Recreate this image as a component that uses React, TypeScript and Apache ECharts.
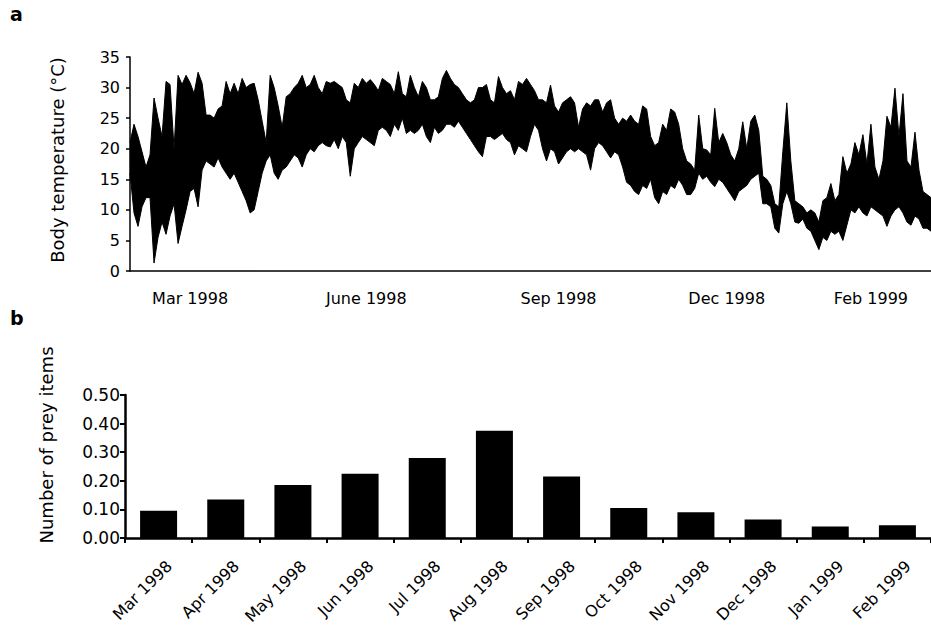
import React, { useEffect, useRef } from "react";
import * as echarts from "echarts";

// Panel a: body temperature, envelope read every 2 days (daily highs and lows)
const tempHigh = [
  21, 24, 22, 19.5, 17, 19, 28.3, 25, 22, 31,
  30.5, 20, 32, 30.5, 32, 30.8, 29, 32.5, 30.7, 25.5,
  25.5, 25, 26.5, 27, 31, 29, 30.7, 29, 31.5, 30,
  30.5, 30.7, 28, 24.5, 21, 32, 30, 27, 23.5, 28.5,
  29, 30, 30.7, 32, 30, 30.5, 32, 30, 29, 31,
  30.7, 31, 30.5, 30, 28, 27.5, 30.7, 30, 31.5, 30.7,
  31.3, 30.5, 29.5, 31.5, 31, 30.5, 29, 32.6, 29, 28.5,
  32, 30, 28.5, 31, 30, 28, 28, 28.5, 31.5, 32.8,
  31.5, 30.5, 30, 29, 28, 27.5, 28, 30, 30, 30.5,
  28, 27.5, 31.8, 30, 29, 29.5, 28, 31, 30.5, 31.5,
  30.5, 29.5, 28, 28, 27.5, 30.4, 27, 26, 27.5, 28,
  28.5, 27.5, 23.5, 26.5, 27.5, 27, 28, 28, 26, 27.5,
  28, 25, 24, 25, 24.5, 25.5, 24.5, 24, 27, 26.5,
  22, 20.5, 21, 24, 23, 26.5, 26, 24, 20, 18,
  17.5, 16.5, 25.5, 20, 19.8, 19, 26.6, 21, 22.5, 21,
  19, 18, 20, 24.4, 20, 24.5, 25.5, 23, 15.5, 15,
  14, 11, 10.5, 19.5, 27.5, 18, 11.5, 11, 10.5, 9.5,
  10, 9.5, 8, 11.5, 12, 14.3, 11.5, 12.5, 18.7, 16,
  17.5, 21, 19, 22.3, 17.5, 24, 17, 15, 18, 25.3,
  23.5, 29.9, 22, 29, 18, 17, 22.7, 16.5, 13, 12.5, 12,
];
const tempLow = [
  16, 9.5, 7.3, 10.5, 12, 12, 1.3, 5.5, 8, 6,
  9, 11, 4.5, 7.3, 10, 13, 13.5, 10.5, 16.5, 18,
  17.5, 17, 18.5, 17, 16, 15, 16, 14.5, 13, 11.5,
  9.5, 10, 13, 16, 18, 19, 16, 15, 16.5, 17,
  18, 19, 18.5, 17, 19, 20, 19.5, 20.5, 21, 20.5,
  20.3, 21.5, 20, 22, 21, 15.5, 20, 21, 22, 21.5,
  21, 20.5, 23, 23.5, 23, 22, 24, 23, 25, 22.5,
  23, 22.5, 23, 24, 22, 21, 23.5, 22.5, 23, 24,
  24, 23.5, 24.5, 23.5, 22.5, 21.5, 20.5, 19.5, 18.7, 22,
  22, 21.5, 22, 22.5, 21.5, 21, 19, 20.5, 20, 19.5,
  22, 24, 23, 20, 18, 20, 19.5, 17.5, 18.5, 19.5,
  20, 19.5, 20, 19.5, 19, 16.5, 20, 21, 20.5, 19.5,
  18.5, 19.5, 19, 17, 14.5, 14, 13, 12.5, 14, 13.5,
  15, 12, 11, 13, 12.5, 14, 13.5, 15, 14, 12.5,
  12.5, 13.5, 16, 15, 15.5, 14.5, 13.8, 15, 14.5, 13.5,
  12.5, 11.5, 13, 13.5, 14, 15, 15.5, 16, 11, 11,
  10.5, 7, 6.2, 11, 13, 11, 8, 7.8, 8.5, 7,
  6.5, 5, 3.5, 5.5, 5, 6.5, 6, 6.5, 5, 7.5,
  10, 9.5, 10.5, 9.5, 9, 10.5, 10, 9.5, 9, 7.3,
  9, 10, 10.5, 9.5, 8, 7.5, 9, 8.5, 7, 7, 6.5,
];
const tempTickIdx = [15, 59, 107, 149, 185];
const tempTickText = ["Mar 1998", "June 1998", "Sep 1998", "Dec 1998", "Feb 1999"];

// Panel b: number of prey items per month
const preyMonths = [
  "Mar 1998", "Apr 1998", "May 1998", "Jun 1998", "Jul 1998", "Aug 1998",
  "Sep 1998", "Oct 1998", "Nov 1998", "Dec 1998", "Jan 1999", "Feb 1999",
];
const preyValues = [0.095, 0.135, 0.185, 0.225, 0.28, 0.375, 0.215, 0.105, 0.09, 0.065, 0.04, 0.045];

const FONT = "DejaVu Sans";

export default function App() {
  const ref = useRef<HTMLDivElement>(null);
  useEffect(() => {
    if (!ref.current) return;
    const chart = echarts.init(ref.current, null, { renderer: "svg" });
    const cats = tempHigh.map((_, i) => String(i));
    const band = tempHigh.map((h, i) => +(h - tempLow[i]).toFixed(2));
    const black = "#000";
    chart.setOption({
      animation: false,
      textStyle: { fontFamily: FONT, color: black },
      grid: [
        { left: 130, top: 57, width: 801, height: 214 },
        { left: 125, top: 395, width: 811, height: 143 },
      ],
      xAxis: [
        {
          type: "category",
          gridIndex: 0,
          data: cats,
          boundaryGap: false,
          axisLine: { lineStyle: { color: black, width: 1.5 } },
          axisTick: { show: false },
          splitLine: { show: false },
          axisLabel: {
            interval: (i: number) => tempTickIdx.includes(i),
            formatter: (_v: string, i: number) => {
              const k = tempTickIdx.indexOf(i);
              return k >= 0 ? tempTickText[k] : "";
            },
            color: black,
            fontFamily: FONT,
            fontSize: 16,
            margin: 19,
          },
        },
        {
          type: "category",
          gridIndex: 1,
          data: preyMonths,
          axisLine: { lineStyle: { color: black, width: 2.5 } },
          axisTick: { show: true, length: 5, lineStyle: { color: black, width: 2 } },
          axisLabel: {
            rotate: 45,
            color: black,
            fontFamily: FONT,
            fontSize: 16,
            margin: 36,
            padding: [0, -15, 0, 0],
            interval: 0,
          },
        },
      ],
      yAxis: [
        {
          type: "value",
          gridIndex: 0,
          min: 0,
          max: 35,
          interval: 5,
          axisLine: { show: true, lineStyle: { color: black, width: 1.5 } },
          axisTick: { show: true, length: 4, lineStyle: { color: black, width: 1.5 } },
          splitLine: { show: false },
          axisLabel: { color: black, fontFamily: FONT, fontSize: 16, margin: 10 },
        },
        {
          type: "value",
          gridIndex: 1,
          min: 0,
          max: 0.5,
          interval: 0.1,
          axisLine: { show: true, lineStyle: { color: black, width: 2.5 } },
          axisTick: { show: true, length: 5, lineStyle: { color: black, width: 2 } },
          splitLine: { show: false },
          axisLabel: {
            color: black,
            fontFamily: FONT,
            fontSize: 17,
            margin: 5,
            formatter: (v: number) => v.toFixed(2),
          },
        },
      ],
      series: [
        {
          type: "line",
          xAxisIndex: 0,
          yAxisIndex: 0,
          data: tempLow,
          stack: "temp",
          symbol: "none",
          lineStyle: { color: black, width: 1 },
          silent: true,
        },
        {
          type: "line",
          xAxisIndex: 0,
          yAxisIndex: 0,
          data: band,
          stack: "temp",
          symbol: "none",
          lineStyle: { color: black, width: 1 },
          areaStyle: { color: black, opacity: 1 },
          silent: true,
        },
        {
          type: "bar",
          xAxisIndex: 1,
          yAxisIndex: 1,
          data: preyValues,
          barWidth: 37,
          itemStyle: { color: black },
          silent: true,
        },
      ],
      graphic: [
        { type: "text", left: 10, top: 4, style: { text: "a", fontSize: 19, fontWeight: "bold", fill: black, fontFamily: FONT } },
        { type: "text", left: 10, top: 308, style: { text: "b", fontSize: 19, fontWeight: "bold", fill: black, fontFamily: FONT } },
        {
          type: "text",
          x: 57,
          y: 160,
          rotation: Math.PI / 2,
          style: { text: "Body temperature (°C)", fontSize: 18, fill: black, fontFamily: FONT, align: "center", verticalAlign: "middle" },
        },
        {
          type: "text",
          x: 46,
          y: 445,
          rotation: Math.PI / 2,
          style: { text: "Number of prey items", fontSize: 18, fill: black, fontFamily: FONT, align: "center", verticalAlign: "middle" },
        },
      ],
    });
    return () => chart.dispose();
  }, []);
  return <div ref={ref} style={{ position: "absolute", left: 0, top: 0, width: 931, height: 628 }} />;
}
